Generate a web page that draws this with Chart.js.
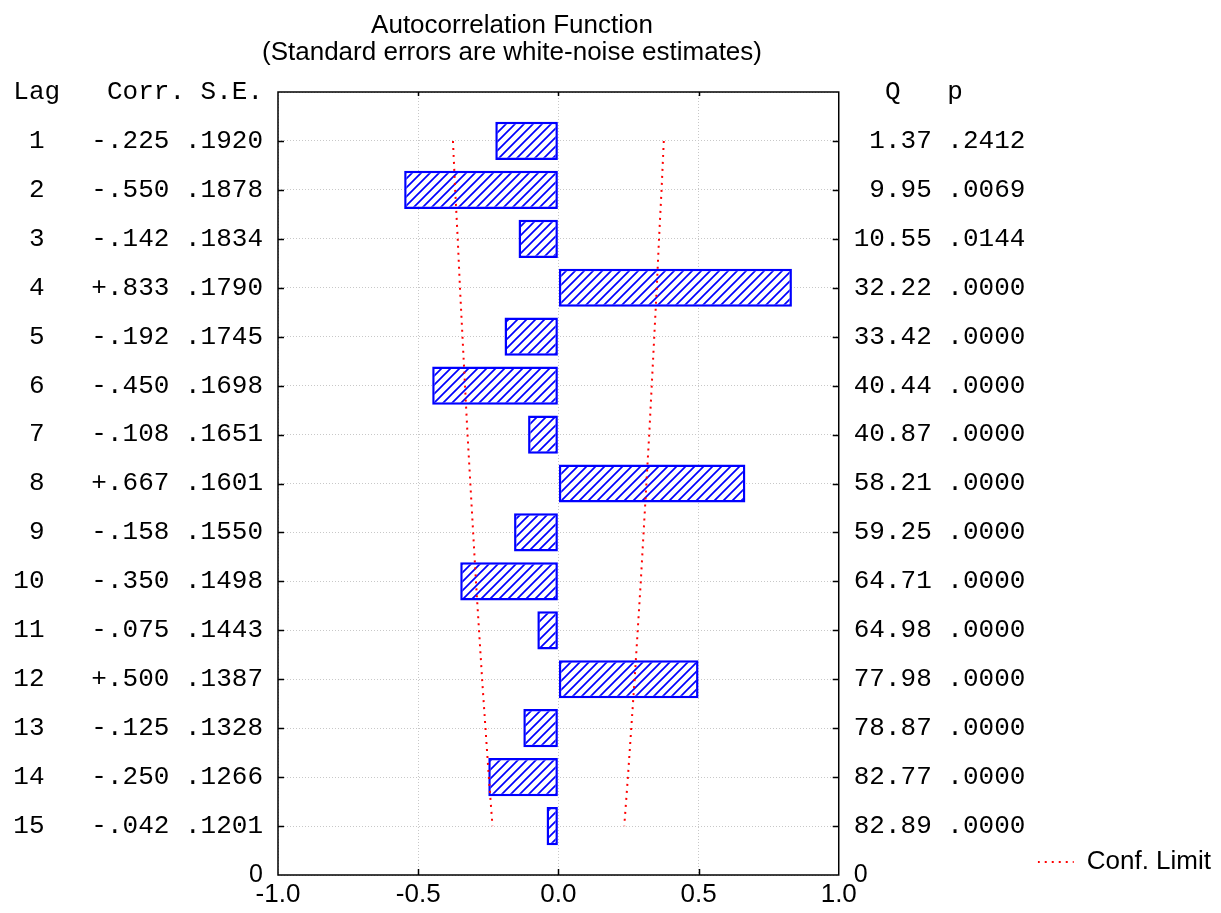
<!DOCTYPE html>
<html>
<head>
<meta charset="utf-8">
<script src="https://cdn.jsdelivr.net/npm/chart.js@4.4.0/dist/chart.umd.min.js"></script>
<style>
  html, body { margin: 0; padding: 0; background: #fff; }
  #wrap { width: 1221px; height: 913px; }
</style>
</head>
<body>
<div id="wrap"><canvas id="acfChart" width="1221" height="913"></canvas></div>
<script>
// ACF table values
const lags = [1, 2, 3, 4, 5, 6, 7, 8, 9, 10, 11, 12, 13, 14, 15];
const corr = [-0.225, -0.550, -0.142, 0.833, -0.192, -0.450, -0.108, 0.667, -0.158, -0.350, -0.075, 0.500, -0.125, -0.250, -0.042];
const stdErr = [0.1920, 0.1878, 0.1834, 0.1790, 0.1745, 0.1698, 0.1651, 0.1601, 0.1550, 0.1498, 0.1443, 0.1387, 0.1328, 0.1266, 0.1201];
const qStat = [1.37, 9.95, 10.55, 32.22, 33.42, 40.44, 40.87, 58.21, 59.25, 64.71, 64.98, 77.98, 78.87, 82.77, 82.89];
const pValue = [0.2412, 0.0069, 0.0144, 0.0000, 0.0000, 0.0000, 0.0000, 0.0000, 0.0000, 0.0000, 0.0000, 0.0000, 0.0000, 0.0000, 0.0000];
const confLimit = [0.376, 0.368, 0.359, 0.351, 0.342, 0.333, 0.324, 0.314, 0.304, 0.294, 0.283, 0.272, 0.260, 0.248, 0.235];
const xTickValues = [-1.0, -0.5, 0.0, 0.5, 1.0];

const titleLines = ['Autocorrelation Function', '(Standard errors are white-noise estimates)'];
const leftHeader = 'Lag   Corr. S.E.';
const rightHeader = '  Q   p';

const MONO = 'Liberation Mono, Courier New, monospace';
const SANS = 'Liberation Sans, Arial, sans-serif';
const BOTTOM = lags.length + 1; // position of the "0" row

const fmtCorr = v => (v < 0 ? '-' : '+') + Math.abs(v).toFixed(3).slice(1);
const fmtFrac = v => v.toFixed(4).slice(1);

function leftLabel(v) {
    if (v === BOTTOM) return '0';
    const i = lags.indexOf(v);
    if (i < 0) return '';
    return String(lags[i]).padStart(2) + '   ' + fmtCorr(corr[i]) + ' ' + fmtFrac(stdErr[i]);
}

function rightLabel(v) {
    if (v === BOTTOM) return '0';
    const i = lags.indexOf(v);
    if (i < 0) return '';
    return qStat[i].toFixed(2).padStart(5) + ' ' + fmtFrac(pValue[i]);
}

function makeHatch() {
    const size = 9;
    const c = document.createElement('canvas');
    c.width = size; c.height = size;
    const g = c.getContext('2d');
    g.fillStyle = '#fff';
    g.fillRect(0, 0, size, size);
    g.strokeStyle = '#0000ff';
    g.lineWidth = 1.7;
    g.beginPath();
    g.moveTo(-1, size + 1); g.lineTo(size + 1, -1);
    g.moveTo(-2, 2); g.lineTo(2, -2);
    g.moveTo(size - 2, size + 2); g.lineTo(size + 2, size - 2);
    g.stroke();
    return g.createPattern(c, 'repeat');
}

const tickFont = ctx => (ctx.tick && ctx.tick.value === BOTTOM)
    ? { family: SANS, size: 25 }
    : { family: MONO, size: 26 };

const acfFrame = {
    id: 'acfFrame',
    afterDatasetsDraw(chart) {
        const { ctx, chartArea: a, scales } = chart;
        ctx.save();
        ctx.strokeStyle = '#000';
        ctx.lineWidth = 1.5;
        ctx.strokeRect(a.left, a.top, a.width, a.height);
        ctx.beginPath();
        lags.forEach(l => {
            const y = Math.round(scales.y.getPixelForValue(l)) + 0.5;
            ctx.moveTo(a.left, y); ctx.lineTo(a.left + 6, y);
            ctx.moveTo(a.right, y); ctx.lineTo(a.right - 6, y);
        });
        xTickValues.slice(1, -1).forEach(v => {
            const x = Math.round(scales.x.getPixelForValue(v)) + 0.5;
            ctx.moveTo(x, a.bottom); ctx.lineTo(x, a.bottom - 6);
            ctx.moveTo(x, a.top); ctx.lineTo(x, a.top + 4);
        });
        ctx.stroke();
        ctx.restore();
    },
    afterDraw(chart) {
        const { ctx, chartArea: a } = chart;
        ctx.save();
        ctx.fillStyle = '#000';
        ctx.textBaseline = 'alphabetic';
        ctx.textAlign = 'center';
        ctx.font = '26px ' + SANS;
        ctx.fillText(titleLines[0], 512, 33);
        ctx.fillText(titleLines[1], 512, 60);

        ctx.font = '26px ' + MONO;
        ctx.textBaseline = 'middle';
        ctx.textAlign = 'right';
        ctx.fillText(leftHeader, a.left - 15, a.top);
        ctx.textAlign = 'left';
        ctx.fillText(rightHeader, a.right + 15, a.top);
        ctx.restore();
    }
};

const ctx = document.getElementById('acfChart').getContext('2d');

new Chart(ctx, {
    data: {
        datasets: [
            {
                type: 'line',
                label: 'Conf. Limit',
                data: lags.map((l, i) => ({ x: -confLimit[i], y: l })),
                borderColor: '#ff0000',
                backgroundColor: 'rgba(0,0,0,0)',
                borderWidth: 2,
                borderDash: [2, 5],
                pointRadius: 0,
                fill: false,
                order: 0
            },
            {
                type: 'line',
                label: 'Conf. Limit',
                data: lags.map((l, i) => ({ x: confLimit[i], y: l })),
                borderColor: '#ff0000',
                backgroundColor: 'rgba(0,0,0,0)',
                borderWidth: 2,
                borderDash: [2, 5],
                pointRadius: 0,
                fill: false,
                order: 0
            },
            {
                type: 'bar',
                label: 'Corr.',
                data: lags.map((l, i) => ({ x: corr[i], y: l })),
                backgroundColor: makeHatch(),
                borderColor: '#0000ff',
                borderWidth: 2.5,
                borderSkipped: false,
                categoryPercentage: 1,
                barPercentage: 0.78,
                order: 1
            }
        ]
    },
    options: {
        indexAxis: 'y',
        responsive: false,
        devicePixelRatio: 1,
        animation: false,
        layout: { padding: { top: 92, left: 0, right: 0, bottom: 0 } },
        plugins: {
            title: { display: false },
            tooltip: { enabled: false },
            legend: {
                display: true,
                position: 'right',
                align: 'end',
                fullSize: false,
                labels: {
                    usePointStyle: false,
                    boxWidth: 36,
                    boxHeight: 0,
                    padding: 0,
                    color: '#000',
                    font: { family: SANS, size: 26 },
                    filter: item => item.datasetIndex === 0
                }
            }
        },
        scales: {
            x: {
                type: 'linear',
                position: 'bottom',
                min: -1,
                max: 1,
                afterBuildTicks: s => { s.ticks = xTickValues.map(v => ({ value: v })); },
                afterFit: s => { s.height = 38; },
                ticks: {
                    color: '#000',
                    padding: 4,
                    font: { family: SANS, size: 26 },
                    callback: v => v.toFixed(1)
                },
                grid: { color: '#c8c8c8', drawTicks: false, lineWidth: 1 },
                border: { display: false, dash: [1, 2] }
            },
            y: {
                type: 'linear',
                position: 'left',
                reverse: true,
                offset: false,
                min: 0,
                max: BOTTOM,
                afterBuildTicks: s => { s.ticks = [0].concat(lags, [BOTTOM]).map(v => ({ value: v })); },
                afterFit: s => { s.width = 278; },
                ticks: {
                    color: '#000',
                    padding: 15,
                    autoSkip: false,
                    font: tickFont,
                    callback: v => leftLabel(v)
                },
                grid: { color: '#c8c8c8', drawTicks: false, lineWidth: 1, offset: false },
                border: { display: false, dash: [1, 2] }
            },
            y2: {
                type: 'linear',
                position: 'right',
                reverse: true,
                offset: false,
                min: 0,
                max: BOTTOM,
                afterBuildTicks: s => { s.ticks = [0].concat(lags, [BOTTOM]).map(v => ({ value: v })); },
                afterFit: s => { s.width = 199; },
                ticks: {
                    color: '#000',
                    padding: 15,
                    autoSkip: false,
                    font: tickFont,
                    callback: v => rightLabel(v)
                },
                grid: { drawOnChartArea: false, drawTicks: false, offset: false },
                border: { display: false }
            }
        }
    },
    plugins: [acfFrame]
});
</script>
</body>
</html>
